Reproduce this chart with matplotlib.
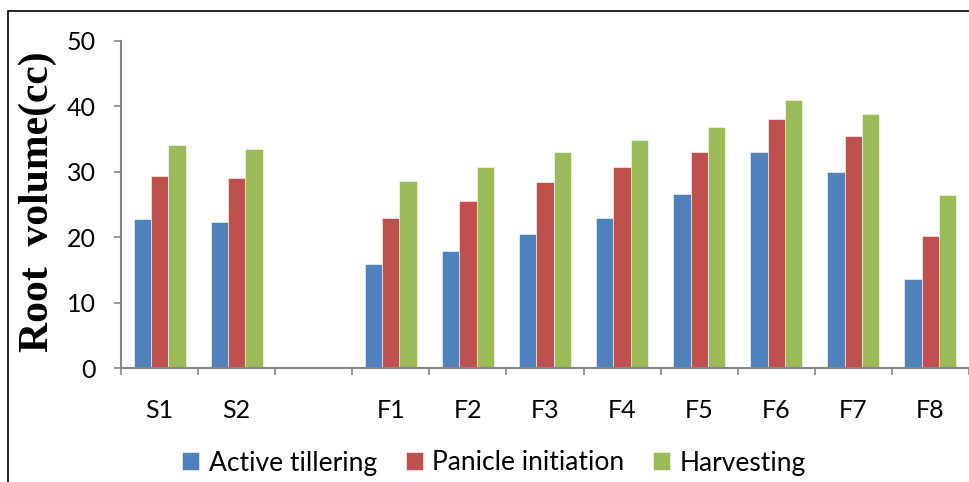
import numpy as np
import matplotlib
matplotlib.use('Agg')
import matplotlib.pyplot as plt
from matplotlib.patches import Rectangle

categories = ['S1', 'S2', '', 'F1', 'F2', 'F3', 'F4', 'F5', 'F6', 'F7', 'F8']
active_tillering = [22.8, 22.3, np.nan, 15.9, 17.9, 20.5, 23.0, 26.6, 33.0, 29.9, 13.6]
panicle_initiation = [29.4, 29.0, np.nan, 23.0, 25.5, 28.5, 30.7, 33.0, 38.1, 35.5, 20.2]
harvesting = [34.1, 33.5, np.nan, 28.6, 30.8, 33.0, 34.9, 36.9, 41.0, 38.8, 26.5]
series_names = ['Active tillering', 'Panicle initiation', 'Harvesting']
colors = ['#4F81BD', '#C0504D', '#9BBB59']

plt.rcParams['font.family'] = ['Lato', 'DejaVu Sans']

fig = plt.figure(figsize=(9.7, 4.82), dpi=100)
ax = fig.add_axes([121 / 970, 114 / 482, 848 / 970, 327 / 482])

x = np.arange(len(categories))
w = 0.225
for i, (vals, name, c) in enumerate(zip([active_tillering, panicle_initiation, harvesting],
                                         series_names, colors)):
    ax.bar(x + (i - 1) * w, vals, width=w, color=c, label=name,
           edgecolor='white', linewidth=0.4)

ax.set_xlim(-0.5, len(categories) - 0.5)
ax.set_ylim(0, 50)
ax.set_yticks(range(0, 51, 10))
ax.set_xticks(x)
ax.set_xticklabels(categories)
ax.set_xticks(np.arange(-0.5, len(categories), 1), minor=True)
ax.tick_params(axis='x', which='major', length=0, pad=22, labelsize=18, colors='black')
ax.tick_params(axis='x', which='minor', length=5, width=1.2, color='#868686', direction='out')
ax.tick_params(axis='y', length=5, width=1.2, color='#868686', pad=13, labelsize=18)

for s in ['top', 'right']:
    ax.spines[s].set_visible(False)
for s in ['left', 'bottom']:
    ax.spines[s].set_color('#868686')
    ax.spines[s].set_linewidth(1.5)

fig.text(38 / 970, 1 - 202 / 482, 'Root  volume(cc)', rotation=90, ha='center', va='center',
         fontsize=30, fontweight='bold', family=['Liberation Serif'])

fig.legend(loc='center', bbox_to_anchor=(494 / 970, 1 - 463 / 482), ncol=3, frameon=False,
           fontsize=19, handlelength=0.65, handleheight=0.65, handletextpad=0.35,
           columnspacing=1.1)

fig.add_artist(Rectangle((8 / 970, -0.1), 1.2, 0.1 + 1 - 11 / 482, fill=False,
                         edgecolor='black', linewidth=1.2, transform=fig.transFigure))

fig.savefig('out.png', dpi=100)
